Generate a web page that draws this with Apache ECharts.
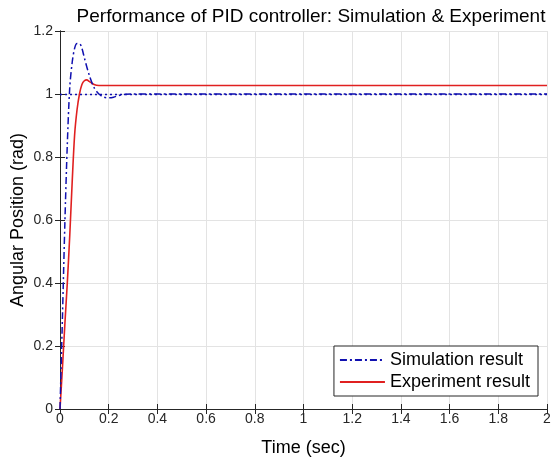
<!DOCTYPE html>
<html>
<head>
<meta charset="utf-8">
<script src="https://cdn.jsdelivr.net/npm/echarts@6/dist/echarts.min.js"></script>
<style>
html, body { margin: 0; padding: 0; background: #fff; }
#chart { width: 552px; height: 459px; }
</style>
</head>
<body>
<div id="chart"></div>
<script>
// time (sec) / response (rad)
var simTime = [0, 0.01, 0.02, 0.03, 0.04, 0.05, 0.06, 0.07, 0.08, 0.09, 0.1, 0.12, 0.14, 0.16, 0.18, 0.2, 0.22, 0.24, 0.27, 0.3, 0.4, 0.6, 1.0, 1.5, 2.0];
var simValue = [0, 0.29, 0.59, 0.84, 1.02, 1.1, 1.145, 1.16, 1.16, 1.145, 1.115, 1.06, 1.02, 1.0, 0.99, 0.988, 0.99, 0.995, 0.999, 1.0, 1.0, 1.0, 1.0, 1.0, 1.0];

var expTime = [0, 0.01, 0.02, 0.03, 0.04, 0.05, 0.06, 0.07, 0.08, 0.09, 0.1, 0.11, 0.12, 0.14, 0.16, 0.2, 0.5, 1.0, 1.5, 2.0];
var expValue = [0, 0.13, 0.27, 0.4, 0.55, 0.72, 0.87, 0.95, 1.0, 1.03, 1.042, 1.045, 1.04, 1.03, 1.027, 1.027, 1.027, 1.027, 1.027, 1.027];

var refLevel = 1;

function pairs(xs, ys) {
    return xs.map(function (x, i) { return [x, ys[i]]; });
}

var chart = echarts.init(document.getElementById('chart'));
var font = 'Liberation Sans, Arial, sans-serif';
var axisColor = '#262626';

var boxAxis = {
    min: 0,
    interval: 0.2,
    axisLine: { show: true, lineStyle: { color: axisColor } },
    axisTick: { show: true, inside: true, length: 5, lineStyle: { color: axisColor } },
    axisLabel: { show: false },
    splitLine: { show: false }
};

var option = {
    animation: false,
    title: {
        text: 'Performance of PID controller: Simulation & Experiment',
        left: 306,
        textAlign: 'center',
        top: 2,
        textStyle: { fontFamily: font, fontSize: 19, fontWeight: 'normal', color: '#000' }
    },
    grid: { left: 60, right: 5, top: 31, bottom: 50, outerBoundsMode: 'none' },
    legend: {
        right: 14,
        bottom: 63,
        orient: 'vertical',
        backgroundColor: '#fff',
        borderColor: axisColor,
        borderWidth: 1,
        padding: [5, 8, 5, 5],
        itemGap: 4,
        itemWidth: 45,
        itemHeight: 12,
        itemStyle: { opacity: 0 },
        textStyle: { fontFamily: font, fontSize: 18, color: '#000' },
        data: ['Simulation result', 'Experiment result']
    },
    xAxis: [{
        type: 'value',
        min: 0,
        max: 2,
        interval: 0.2,
        name: 'Time (sec)',
        nameLocation: 'middle',
        nameGap: 30,
        nameTextStyle: { fontFamily: font, fontSize: 18, color: '#000' },
        axisLine: { lineStyle: { color: axisColor } },
        axisTick: { inside: true, length: 5, lineStyle: { color: axisColor } },
        axisLabel: {
            fontFamily: font, fontSize: 14, color: axisColor, margin: 3,
            formatter: function (v) { return +v.toFixed(1) + ''; }
        },
        splitLine: { show: true, lineStyle: { color: '#e3e3e3' } }
    }, Object.assign({ type: 'value', position: 'top', max: 2 }, boxAxis)],
    yAxis: [{
        type: 'value',
        min: 0,
        max: 1.2,
        interval: 0.2,
        name: 'Angular Position (rad)',
        nameLocation: 'middle',
        nameGap: 33,
        nameMoveOverlap: false,
        nameTextStyle: { fontFamily: font, fontSize: 18, color: '#000' },
        axisLine: { show: true, lineStyle: { color: axisColor } },
        axisTick: { show: true, inside: true, length: 5, lineStyle: { color: axisColor } },
        axisLabel: {
            fontFamily: font, fontSize: 14, color: axisColor, margin: 7,
            formatter: function (v) { return +v.toFixed(1) + ''; }
        },
        splitLine: { show: true, lineStyle: { color: '#e3e3e3' } }
    }, Object.assign({ type: 'value', position: 'right', max: 1.2 }, boxAxis)],
    series: [
        {
            name: 'Simulation result',
            type: 'line',
            symbol: 'none',
            smooth: 0.3,
            data: pairs(simTime, simValue),
            lineStyle: { color: '#1010b0', width: 1.5, type: [7, 3, 2, 3] },
            itemStyle: { color: '#1010b0' },
            z: 3,
            markLine: {
                silent: true,
                symbol: 'none',
                label: { show: false },
                lineStyle: { color: '#1010b0', type: [2, 3], width: 1.3 },
                data: [{ yAxis: refLevel }]
            }
        },
        {
            name: 'Experiment result',
            type: 'line',
            symbol: 'none',
            smooth: 0.3,
            data: pairs(expTime, expValue),
            lineStyle: { color: '#e02020', width: 1.6 },
            itemStyle: { color: '#e02020' },
            z: 2
        }
    ]
};

chart.setOption(option);
</script>
</body>
</html>
